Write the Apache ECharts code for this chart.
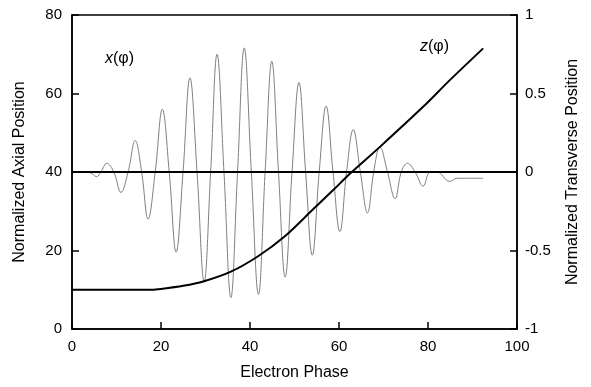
<!DOCTYPE html>
<html>
<head>
<meta charset="utf-8">
<script src="https://cdn.jsdelivr.net/npm/echarts@6/dist/echarts.min.js"></script>
<style>
  html, body { margin: 0; padding: 0; background: #fff; }
  #chart { width: 591px; height: 387px; }
</style>
</head>
<body>
<div id="chart"></div>
<script>
// [phase, value]
const axialTicks = [0, 20, 40, 60, 80]
const transverseTicks = [-1, -0.5, 0, 0.5, 1]
const phaseTicks = [0, 20, 40, 60, 80, 100]

// z(phi), left axis
const zPhi = [
  [0, 10], [15, 10], [18, 10], [20, 10.2], [25, 11], [29.5, 12.1],
  [35.7, 14.6], [41.9, 18.6], [47.9, 23.7], [54, 30.3], [58.7, 35.4],
  [62.5, 39.6], [69.2, 46.4], [78.9, 56.6], [84.9, 63.4], [92.4, 71.5]
]

// x(phi), right axis
const xPhi = [
  [3.5, 0], [4.5, -0.01], [5.5, -0.03], [6.5, 0], [7.8, 0.055], [9.4, 0],
  [11.0, -0.13], [12.6, 0], [14.2, 0.2], [15.65, 0], [17.1, -0.3], [18.7, 0],
  [20.3, 0.4], [21.85, 0], [23.4, -0.51], [24.95, 0], [26.5, 0.6], [28.1, 0],
  [29.7, -0.7], [31.15, 0], [32.6, 0.75], [34.15, 0], [35.7, -0.8], [37.2, 0],
  [38.7, 0.79], [40.3, 0], [41.9, -0.78], [43.4, 0], [44.9, 0.705], [46.4, 0],
  [47.9, -0.67], [49.45, 0], [51.0, 0.57], [52.5, 0], [54.0, -0.53], [55.55, 0],
  [57.1, 0.42], [58.65, 0], [60.2, -0.38], [61.7, 0], [63.2, 0.27], [64.8, 0],
  [66.4, -0.26], [67.8, 0], [69.2, 0.16], [70.9, 0], [72.6, -0.17], [74.0, 0],
  [75.4, 0.056], [77.1, 0], [78.9, -0.09], [80.5, 0], [82.0, 0.0], [84.9, -0.06],
  [86.5, -0.04], [92.4, -0.04]
]

const font = 'Liberation Sans, Arial, sans-serif'
const chart = echarts.init(document.getElementById('chart'))

const axisCommon = {
  axisLine: { show: true, lineStyle: { color: '#000', width: 1.5 } },
  axisTick: { show: true, inside: true, length: 7, lineStyle: { color: '#000', width: 1.5 } },
  splitLine: { show: false },
  axisLabel: { color: '#000', fontSize: 15, fontFamily: font },
  nameTextStyle: { color: '#000', fontSize: 16, fontFamily: font },
  nameLocation: 'middle'
}

chart.setOption({
  animation: false,
  backgroundColor: '#fff',
  grid: { left: 72, right: 74, top: 15, bottom: 58, show: true, borderColor: '#000', borderWidth: 1.5 },
  xAxis: {
    ...axisCommon,
    type: 'value',
    min: phaseTicks[0],
    max: phaseTicks[phaseTicks.length - 1],
    interval: 20,
    name: 'Electron Phase',
    nameGap: 36,
    axisLabel: { ...axisCommon.axisLabel, margin: 10 }
  },
  yAxis: [
    {
      ...axisCommon,
      type: 'value',
      position: 'left',
      min: axialTicks[0],
      max: axialTicks[axialTicks.length - 1],
      interval: 20,
      name: 'Normalized Axial Position',
      nameGap: 44,
      axisLabel: { ...axisCommon.axisLabel, margin: 10 }
    },
    {
      ...axisCommon,
      type: 'value',
      position: 'right',
      min: transverseTicks[0],
      max: transverseTicks[transverseTicks.length - 1],
      interval: 0.5,
      name: 'Normalized Transverse Position',
      nameGap: 48,
      nameRotate: 90,
      axisLabel: { ...axisCommon.axisLabel, margin: 8 }
    }
  ],
  series: [
    {
      name: 'x(phi)',
      type: 'line',
      yAxisIndex: 1,
      data: xPhi,
      smooth: 0.4,
      showSymbol: false,
      lineStyle: { color: '#808080', width: 1 },
      markLine: {
        silent: true,
        symbol: 'none',
        label: { show: false },
        lineStyle: { color: '#000', width: 2, type: 'solid' },
        data: [{ yAxis: 0 }]
      },
      z: 2
    },
    {
      name: 'z(phi)',
      type: 'line',
      yAxisIndex: 0,
      data: zPhi,
      smooth: 0.3,
      showSymbol: false,
      lineStyle: { color: '#000', width: 2 },
      z: 3
    }
  ],
  graphic: [
    {
      type: 'text', left: 105, top: 51,
      style: {
        text: '{i|x}(φ)', fontSize: 16, fontFamily: font, fill: '#000',
        rich: { i: { fontStyle: 'italic', fontSize: 16, fontFamily: font } }
      }
    },
    {
      type: 'text', left: 420, top: 39,
      style: {
        text: '{i|z}(φ)', fontSize: 16, fontFamily: font, fill: '#000',
        rich: { i: { fontStyle: 'italic', fontSize: 16, fontFamily: font } }
      }
    }
  ]
})
</script>
</body>
</html>
